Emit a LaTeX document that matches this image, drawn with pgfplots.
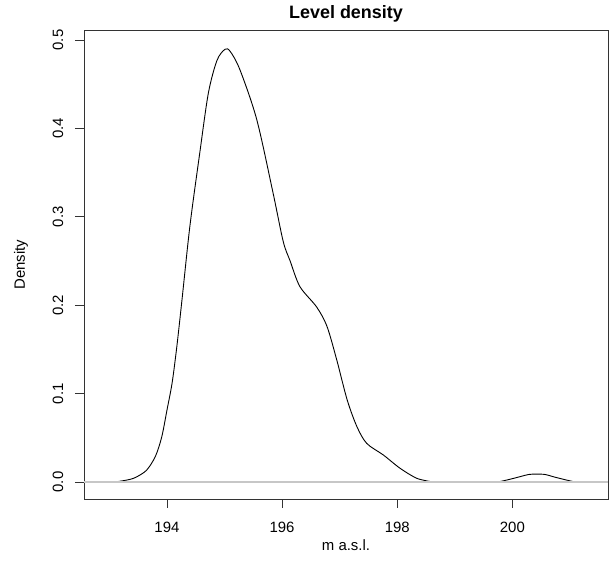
\documentclass[border=0pt]{standalone}
\usepackage{pgfplots}
\pgfplotsset{compat=1.18}
\usepackage{fontspec}
\setmainfont{Liberation Sans}
\begin{document}
\begin{tikzpicture}[x=1bp,y=1bp]
\path[use as bounding box] (-84bp,-63bp) rectangle (532bp,499bp);
\begin{axis}[
  at={(0,0)}, anchor=south west,
  scale only axis,
  width=524bp, height=468.3bp,
  xmin=192.56, xmax=201.66,
  ymin=-0.0192, ymax=0.5105,
  xtick={194,196,198,200},
  ytick={0,0.1,0.2,0.3,0.4,0.5},
  /pgf/number format/assume math mode=true,
  tick align=outside,
  major tick length=9bp,
  tick style={black!80, line width=0.8bp},
  axis line style={black!80, line width=0.8bp},
  xtick pos=bottom, ytick pos=left,
  ticklabel style={font=\fontsize{15}{18}\selectfont},
  xticklabel style={anchor=center, yshift=-19bp},
  yticklabel style={anchor=center, xshift=-17bp, rotate=90,
    /pgf/number format/fixed, /pgf/number format/fixed zerofill,
    /pgf/number format/precision=1},
  title={\fontsize{18}{21}\selectfont\bfseries Level density},
  title style={anchor=center, at={(axis description cs:0.5,1.024)}},
  xlabel={\fontsize{15}{18}\selectfont m a.s.l.},
  ylabel={\fontsize{15}{18}\selectfont Density},
  xlabel style={at={(0.5,0)}, anchor=center, yshift=-46bp},
  ylabel style={at={(axis description cs:-0.1202,0.5)}, anchor=center, rotate=0},
  clip=true,
]
\addplot[black, line width=0.9bp, smooth, tension=0.5] coordinates {
(193.15,0.0005) (193.36,0.003) (193.48,0.006) (193.65,0.0136) (193.80,0.029)
(193.91,0.051) (194.00,0.081) (194.09,0.112) (194.17,0.152) (194.26,0.205)
(194.40,0.290) (194.57,0.372) (194.72,0.440) (194.87,0.477) (195.01,0.4895)
(195.10,0.487) (195.27,0.466) (195.56,0.41) (195.84,0.328) (196.02,0.272)
(196.14,0.250) (196.31,0.221) (196.60,0.198) (196.78,0.176) (196.95,0.138) (197.13,0.093)
(197.30,0.0626) (197.47,0.0437) (197.76,0.0305) (198.05,0.0155) (198.34,0.0042)
(198.60,0.0003)
};
\addplot[black, line width=0.9bp, smooth, tension=0.5] coordinates {
(199.77,0.0003) (199.95,0.003) (200.13,0.006) (200.28,0.0085) (200.42,0.009)
(200.57,0.0085) (200.71,0.006) (200.89,0.003) (201.07,0.0003)
};
\addplot[black!22, line width=1.3bp] coordinates {(192.56,0) (201.66,0)};
\end{axis}
\end{tikzpicture}
\end{document}
